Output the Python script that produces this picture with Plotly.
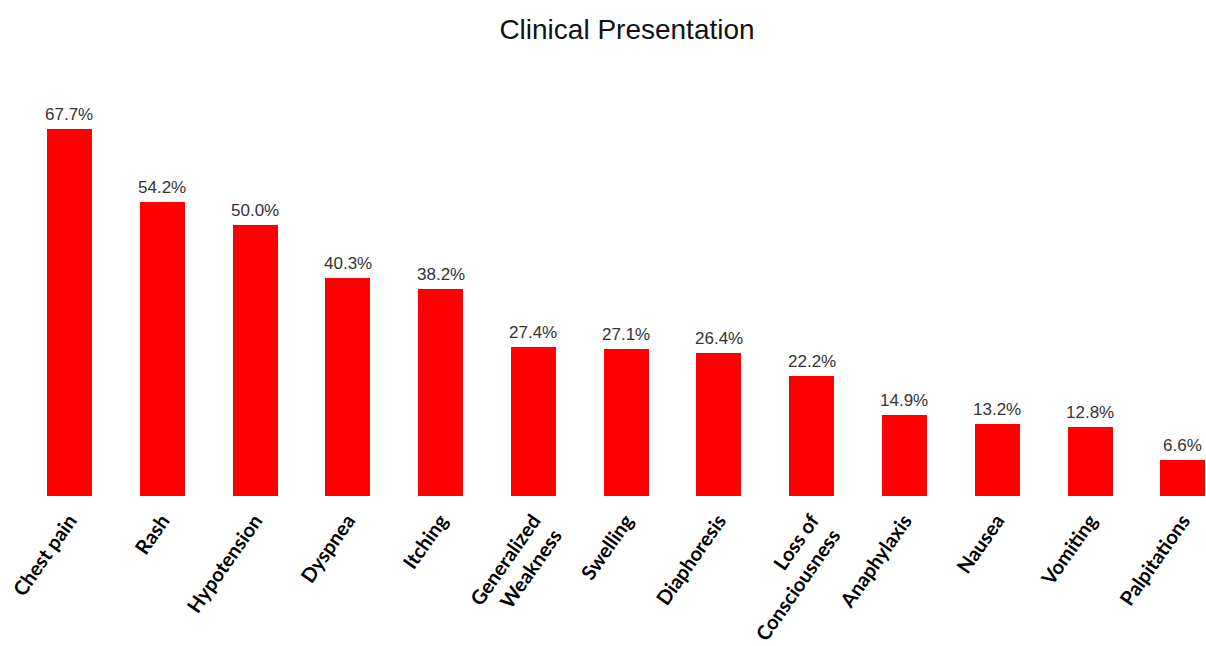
import plotly.graph_objects as go

categories = ["Chest pain", "Rash", "Hypotension", "Dyspnea", "Itching",
              "Generalized<br>Weakness", "Swelling", "Diaphoresis",
              "Loss of<br>Consciousness", "Anaphylaxis", "Nausea", "Vomiting",
              "Palpitations"]
values = [67.7, 54.2, 50.0, 40.3, 38.2, 27.4, 27.1, 26.4, 22.2, 14.9, 13.2, 12.8, 6.6]
labels = [f"{v:.1f}%" for v in values]

xs = list(range(len(categories)))

fig = go.Figure(go.Bar(
    x=xs, y=values,
    marker=dict(color="#ff0000", line=dict(width=0)),
    width=0.485,
    hoverinfo="skip",
))

for x, v, t in zip(xs, values, labels):
    fig.add_annotation(
        x=x, y=v, text=t, showarrow=False, yanchor="bottom", yshift=3,
        font=dict(family="Liberation Sans, Arial", size=17, color="#333333"),
    )

fig.update_layout(
    width=1206, height=646,
    margin=dict(l=0, r=0, t=80, b=150),
    paper_bgcolor="white", plot_bgcolor="white",
    title=dict(text="Clinical Presentation", x=627/1206, xanchor="center",
               xref="paper", y=1 - 29/646, yanchor="middle",
               font=dict(family="Liberation Sans, Arial", size=28, color="#111111")),
    showlegend=False,
    bargap=0,
)
fig.update_xaxes(
    range=[-0.749, 12.25], automargin=False,
    tickmode="array", tickvals=xs, ticktext=categories,
    tickangle=-55, showgrid=False, zeroline=False, showline=False, ticks="",
    ticklabelstandoff=8,
    tickfont=dict(family="Lato", size=20, color="black", weight="bold"),
)
fig.update_yaxes(range=[0, 76.75], visible=False, showgrid=False, zeroline=False,
                 automargin=False)

fig.write_html("out.html")
